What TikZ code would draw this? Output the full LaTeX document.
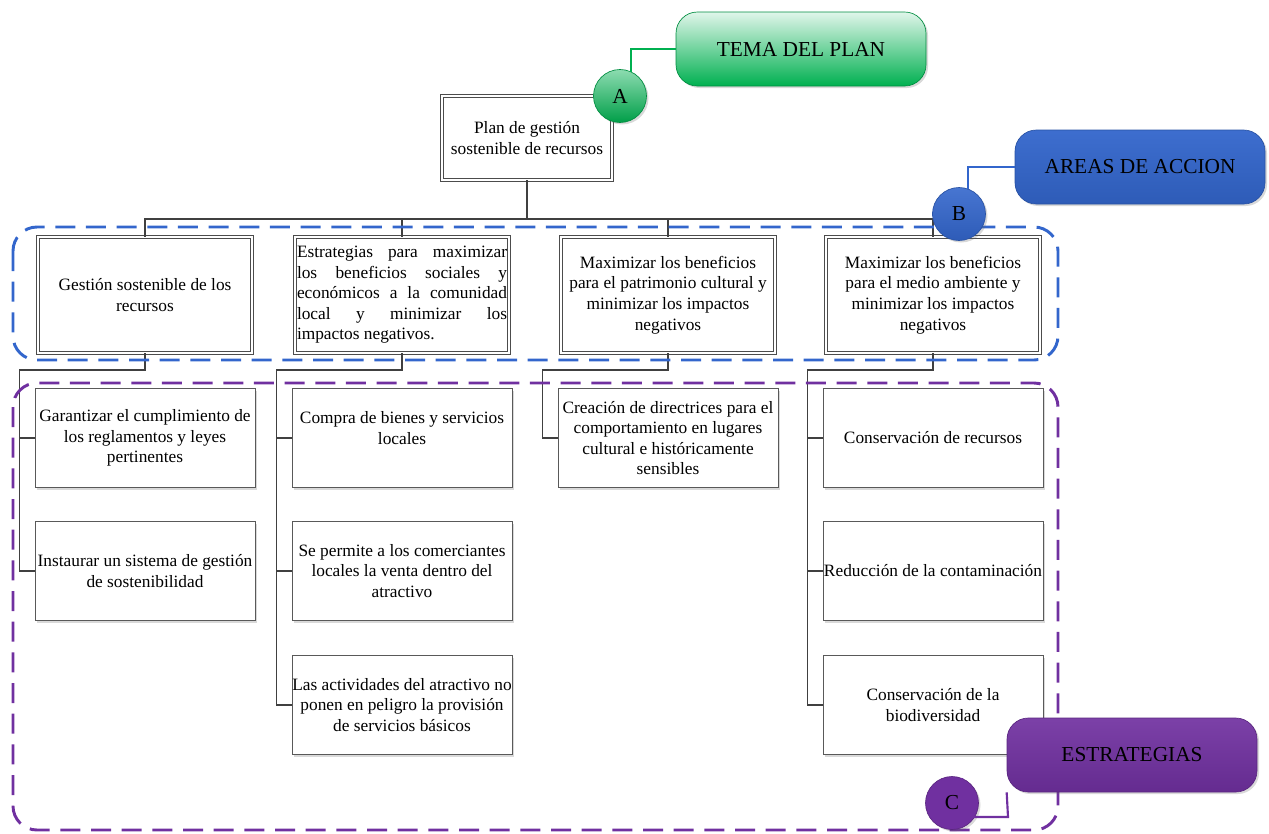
\documentclass[tikz,border=0pt]{standalone}
\usepackage{fontspec}
\setmainfont{Liberation Serif}
\usetikzlibrary{calc,shadows}
\definecolor{temagreen}{RGB}{0,176,80}
\definecolor{areablue}{RGB}{51,102,204}
\definecolor{estpurple}{RGB}{112,48,160}
\definecolor{linkgray}{RGB}{64,64,64}
\newcommand\justline[1]{\makebox[157.5pt][s]{#1}}
\tikzset{
  box text/.style={font=\fontsize{13}{15.4}\selectfont, align=center, inner xsep=0pt, inner ysep=2pt},
  soft shadow/.style={drop shadow={shadow xshift=1.5pt, shadow yshift=-1.5pt, opacity=0.25, fill=black!60}},
  root box/.style={box text, draw=black!70, double, double distance=1.6pt, line width=0.6pt,
    fill=white, minimum width=127.5pt, minimum height=63pt, soft shadow},
  area box/.style={root box, minimum width=161pt, minimum height=87pt},
  strat box/.style={box text, draw=black!65, line width=0.6pt, fill=white,
    minimum width=165pt, minimum height=74.25pt, soft shadow},
  link/.style={draw=linkgray, line width=1.2pt},
  frame/.style={draw=#1, line width=2.2pt, dash pattern=on 15pt off 8pt, rounded corners=18pt},
  tag circle/.style={circle, draw=#1!80!black, line width=0.5pt, minimum size=39.75pt, inner sep=0pt,
    font=\fontsize{16}{19}\selectfont, soft shadow},
  tag box/.style={rounded corners=16pt, draw=#1!80!black, line width=0.5pt, minimum width=187.5pt,
    minimum height=55.5pt, font=\fontsize{16}{19}\selectfont, soft shadow},
  tag link/.style={draw=#1, line width=1.6pt},
}
\begin{document}
\begin{tikzpicture}[x=0.75pt,y=-0.75pt]
\useasboundingbox (0,0) rectangle (1269,833);

% plan and action areas
\node[root box] (root) at (527,138) {Plan de gestión\\sostenible de recursos};
\node[area box] (a1) at (145,295) {Gestión sostenible de los\\recursos};
\node[area box, align=left] (a2) at (402,295) {\justline{Estrategias para maximizar}\\
  \justline{los beneficios sociales y}\\\justline{económicos a la comunidad}\\
  \justline{local y minimizar los}\\impactos negativos.};
\node[area box] (a3) at (668,295) {Maximizar los beneficios\\para el patrimonio cultural y\\minimizar los impactos\\negativos};
\node[area box] (a4) at (933,295) {Maximizar los beneficios\\para el medio ambiente y\\minimizar los impactos\\negativos};

% strategies
\node[strat box] (s11) at (145,438) {Garantizar el cumplimiento de\\los reglamentos y leyes\\pertinentes};
\node[strat box] (s12) at (145,571) {Instaurar un sistema de gestión\\de sostenibilidad};
\node[strat box] (s21) at (402,438) {Compra de bienes y servicios\\locales\\\mbox{}};
\node[strat box] (s22) at (402,571) {Se permite a los comerciantes\\locales la venta dentro del\\atractivo};
\node[strat box] (s23) at (402,705) {Las actividades del atractivo no\\ponen en peligro la provisión\\de servicios básicos};
\node[strat box] (s31) at (668,438) {Creación de directrices para el\\comportamiento en lugares\\cultural e históricamente\\sensibles};
\node[strat box] (s41) at (933,438) {Conservación de recursos};
\node[strat box] (s42) at (933,571) {Reducción de la contaminación};
\node[strat box] (s43) at (933,705) {Conservación de la\\biodiversidad};

% tree lines
\coordinate (bus) at (0,219);
\coordinate (rail) at (0,370);
\draw[link, line width=1.8pt] (root.south) -- (root.south |- bus);
\draw[link] (a1.north) -- (a1.north |- bus) -- (a4.north |- bus) -- (a4.north);
\draw[link] (a2.north) -- (a2.north |- bus);
\draw[link] (a3.north) -- (a3.north |- bus);

\draw[link] (a1.south) -- (a1.south |- rail) -| ($(s12.west)+(-15,0)$) -- (s12.west);
\draw[link] (s11.west) -- ++(-15,0);
\draw[link] (a2.south) -- (a2.south |- rail) -| ($(s23.west)+(-15,0)$) -- (s23.west);
\draw[link] (s21.west) -- ++(-15,0);
\draw[link] (s22.west) -- ++(-15,0);
\draw[link] (a3.south) -- (a3.south |- rail) -| ($(s31.west)+(-15,0)$) -- (s31.west);
\draw[link] (a4.south) -- (a4.south |- rail) -| ($(s43.west)+(-15,0)$) -- (s43.west);
\draw[link] (s41.west) -- ++(-15,0);
\draw[link] (s42.west) -- ++(-15,0);

% dashed groups
\draw[frame=areablue] (13,227) rectangle (1058,360);
\draw[frame=estpurple] (13,383) rectangle (1058,830);

% tags
\node[tag box=temagreen, top color=temagreen!12, bottom color=temagreen] (tema) at (801,49) {TEMA DEL PLAN};
\node[tag circle=temagreen, top color=temagreen!45, bottom color=temagreen!90!black] (A) at (620,96) {A};
\draw[tag link=temagreen] (A.65) |- (tema.west);

\node[tag box=areablue, top color=areablue!95!white, bottom color=areablue!90!black] (areas) at (1140,167) {AREAS DE ACCION};
\node[tag circle=areablue, top color=areablue!90!white, bottom color=areablue!90!black] (B) at (959,214) {B};
\draw[tag link=areablue] (B.70) |- (areas.west);

\node[tag box=estpurple, top color=estpurple!92!white, bottom color=estpurple!90!black] (estrategias) at (1132,755) {ESTRATEGIAS};
\node[tag circle=estpurple, fill=estpurple] (C) at (952,803) {C};
\coordinate (cjog) at (1008,817);
\draw[tag link=estpurple] (C.68) |- (cjog) -- (estrategias.south west);
\end{tikzpicture}
\end{document}
